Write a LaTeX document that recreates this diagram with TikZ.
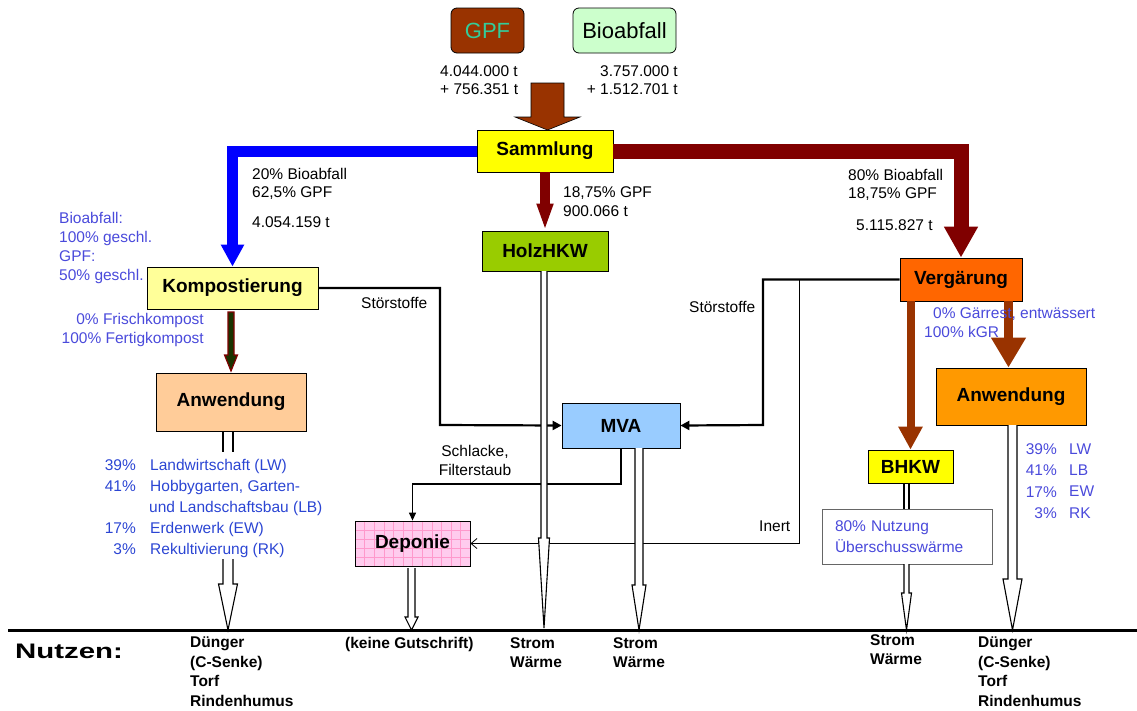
\documentclass[tikz,border=0pt]{standalone}
\usepackage{fontspec}
\setmainfont{Liberation Sans}
\usepackage{graphicx}
\usetikzlibrary{arrows.meta}
\definecolor{gpfbrown}{HTML}{993300}
\definecolor{gpfgreen}{HTML}{33CC99}
\definecolor{biogreen}{HTML}{CCFFCC}
\definecolor{sammyellow}{HTML}{FFFF00}
\definecolor{kompyellow}{HTML}{FFFF99}
\definecolor{holzgreen}{HTML}{99CC00}
\definecolor{vergorange}{HTML}{FF6600}
\definecolor{anwpeach}{HTML}{FFCC99}
\definecolor{anworange}{HTML}{FF9900}
\definecolor{mvablue}{HTML}{99CCFF}
\definecolor{deppink}{HTML}{FFCCEE}
\definecolor{gridpink}{HTML}{FF99CC}
\definecolor{blueline}{HTML}{0000FF}
\definecolor{darkred}{HTML}{800000}
\definecolor{txtblue}{HTML}{4A4ADB}
\definecolor{listblue}{HTML}{2B45D3}
\definecolor{kgreen}{HTML}{1A3300}
\newcommand\hollowarr[6]{\filldraw[draw=black,fill=white,line width=1.1pt] ({#1-#5},#2) -- ({#1-#5},#3) -- ({#1-#6},#3) -- (#1,#4) -- ({#1+#6},#3) -- ({#1+#5},#3) -- ({#1+#5},#2);}
\begin{document}
\begin{tikzpicture}[x=1pt,y=-1pt,
  box/.style={draw=black,line width=0.8pt,inner sep=0pt,font=\fontsize{19}{22}\selectfont\bfseries},
  lbl/.style={inner sep=0pt,font=\fontsize{15.5}{18}\selectfont,align=left,anchor=north west},
  bot/.style={inner sep=0pt,font=\fontsize{15.5}{19.5}\selectfont\bfseries,align=left,anchor=north west},
  thickline/.style={line width=2.2pt,draw=black}]
\useasboundingbox (0,0) rectangle (1137,710);

% top sources
\node[box,fill=gpfbrown,text=gpfgreen,rounded corners=6pt,minimum width=73pt,minimum height=45pt,font=\fontsize{22}{24}\selectfont] (gpf) at (487.5,30.5) {GPF};
\node[box,fill=biogreen,rounded corners=6pt,minimum width=103pt,minimum height=45pt,font=\fontsize{22}{24}\selectfont] (bio) at (624.5,30.5) {Bioabfall};
\node[lbl] (gpft) at (440,65.5) {4.044.000 t\\+ 756.351 t};
\node[lbl,anchor=north east,align=right] (biot) at (678,65.5) {3.757.000 t\\+ 1.512.701 t};

% big input arrow
\filldraw[draw=black,fill=gpfbrown,line width=0.6pt] (531,83) -- (531,117) -- (515,117) -- (547.5,130) -- (580,117) -- (564,117) -- (564,83) -- cycle;

% boxes
\node[box,fill=sammyellow,minimum width=136pt,minimum height=42pt] (samm) at (545,151) {Sammlung};
\node[box,fill=kompyellow,minimum width=171pt,minimum height=42pt] (komp) at (232.5,288) {Kompostierung};
\node[box,fill=holzgreen,minimum width=126pt,minimum height=40pt] (holz) at (545,251) {HolzHKW};
\node[box,fill=vergorange,minimum width=122pt,minimum height=43pt] (verg) at (961,279.5) {Vergärung};
\node[box,fill=anwpeach,minimum width=150pt,minimum height=58pt] (anwL) at (231,402) {Anwendung};
\node[box,fill=anworange,minimum width=150pt,minimum height=57pt] (anwR) at (1011,396.5) {Anwendung};
\node[box,fill=mvablue,minimum width=118pt,minimum height=45pt] (mva) at (621,425.5) {MVA};
\node[box,fill=deppink,minimum width=115pt,minimum height=45pt,
  path picture={\foreach \i in {1,...,12}{\draw[gridpink,line width=0.4pt] ([xshift=\i*9.6pt]path picture bounding box.south west) -- ([xshift=\i*9.6pt]path picture bounding box.north west);}
  \foreach \j in {1,...,5}{\draw[gridpink,line width=0.4pt] ([yshift=\j*9pt]path picture bounding box.south west) -- ([yshift=\j*9pt]path picture bounding box.south east);}}] (dep) at (412.5,543.5) {Deponie};
\node[box,fill=sammyellow,minimum width=85pt,minimum height=33pt] (bhkw) at (910.5,466.5) {BHKW};
\node[draw=black!60,fill=white,line width=0.8pt,text width=144pt,inner xsep=13pt,inner ysep=0pt,minimum height=55pt,align=left,text=txtblue,font=\fontsize{15.5}{21}\selectfont] (nutz) at (907,536.5) {80\% Nutzung\\Überschusswärme};

% main flows
\draw[line width=11pt,blueline,-{Triangle[width=22pt,length=22pt]}] (samm.west) -| (komp.north);
\draw[line width=15pt,darkred,-{Triangle[width=32pt,length=31pt]}] (samm.east) -| (verg.north);
\draw[line width=10pt,darkred,-{Triangle[width=15pt,length=27pt]}] (samm.south) -- (holz.north);
\filldraw[draw=darkred,fill=kgreen,line width=1.2pt] (228,312) -- (234,312) -- (234,355) -- (237.5,355) -- (231,371) -- (224.5,355) -- (228,355) -- cycle;
\draw[line width=8pt,gpfbrown,-{Triangle[width=23pt,length=23pt]}] (bhkw.north |- verg.south) -- (bhkw.north);
\draw[line width=9pt,gpfbrown,-{Triangle[width=33pt,length=30pt]}] ([xshift=-2.5pt]anwR.north |- verg.south) -- ([xshift=-2.5pt]anwR.north);

% Störstoffe, Schlacke, Inert
\coordinate (cl) at (440,425);
\coordinate (cr) at (763,425);
\coordinate (inert) at (799,280);
\coordinate (schl) at (621,484);
\draw[thickline,-{Triangle[length=9pt,width=9pt]}] (komp.east) -| (cl) -- (mva.west);
\draw[thickline,-{Triangle[length=9pt,width=9pt]}] (verg.west) -| (cr) -- (mva.east);
\draw[line width=0.8pt,-{Straight Barb[length=6pt,width=10pt]}] (inert) |- (dep.east);
\draw[line width=1.2pt,-{Triangle[length=8pt,width=7pt]}] (mva.south) -- (schl) -| (dep.north);

% hollow output arrows
\draw[line width=1.1pt] (223,431) -- (223,452) (233,431) -- (233,452);
\hollowarr{228}{559}{584}{630}{5}{9.5}
\hollowarr{411.5}{568}{617}{630}{3.5}{6.5}
\hollowarr{544}{271}{538}{628}{3}{5.5}
\hollowarr{639}{448}{585}{630}{4}{7}
\draw[line width=1.1pt] (904,483) -- (904,509) (909,483) -- (909,509);
\hollowarr{906.5}{564}{593}{630}{2.5}{5}
\hollowarr{1012.5}{425}{579}{630}{4.5}{9.5}

% baseline
\coordinate (bl0) at (8,630);
\coordinate (bl1) at (1137,630);
\draw[line width=3pt] (bl0) -- (bl1);

% labels
\node[lbl] (l20) at (252,168.5) {20\% Bioabfall\\62,5\% GPF};
\node[lbl] (l4054) at (252,216.5) {4.054.159 t};
\node[lbl,font=\fontsize{15.5}{19}\selectfont] (l1875) at (563,186.5) {18,75\% GPF\\900.066 t};
\node[lbl] (l80) at (848,169.5) {80\% Bioabfall\\18,75\% GPF};
\node[lbl] (l5115) at (856,219.5) {5.115.827 t};
\node[lbl,text=txtblue,font=\fontsize{15.5}{19}\selectfont] (lgeschl) at (59,212.5) {Bioabfall:\\100\% geschl.\\GPF:\\50\% geschl.};
\node[lbl,anchor=north east,align=right,text=txtblue,font=\fontsize{15.5}{19}\selectfont] (lfrisch) at (204,313.5) {0\% Frischkompost\\100\% Fertigkompost};
\node[lbl] (lstl) at (361,297.5) {Störstoffe};
\node[lbl] (lstr) at (689,301.5) {Störstoffe};
\node[lbl,text=txtblue] (lgaer) at (933,307.5) {0\% Gärrest, entwässert};
\node[lbl,text=txtblue] (lkgr) at (924,326.5) {100\% kGR};
\node[lbl,align=center,anchor=north,font=\fontsize{15.5}{19}\selectfont] (lschl) at (475,445.5) {Schlacke,\\Filterstaub};
\node[lbl] (linert) at (759,520.5) {Inert};

\node[lbl,anchor=north east,align=right,text=listblue,font=\fontsize{15.5}{21}\selectfont] (lpl) at (136,459.5) {39\%\\41\%\\[21pt]17\%\\3\%};
\node[lbl,text=listblue,font=\fontsize{15.5}{21}\selectfont] (ltl) at (150,459.5) {Landwirtschaft (LW)\\Hobbygarten, Garten-\\\hspace*{-1pt}und Landschaftsbau (LB)\\Erdenwerk (EW)\\Rekultivierung (RK)};
\node[lbl,anchor=north east,align=right,text=txtblue,font=\fontsize{15.5}{21.3}\selectfont] (lpr) at (1057,443.5) {39\%\\41\%\\17\%\\3\%};
\node[lbl,text=txtblue,font=\fontsize{15.5}{21.3}\selectfont] (ltr) at (1069,443.5) {LW\\LB\\EW\\RK};

% bottom
\node[anchor=west,inner sep=0pt,font=\fontsize{21}{21}\selectfont\bfseries] (nutzen) at (15,651) {\scalebox{1.4}[1]{Nutzen:}};
\node[bot] (b1) at (190,637) {Dünger\\(C-Senke)\\Torf\\Rindenhumus};
\node[bot] (b2) at (345,637) {(keine Gutschrift)};
\node[bot] (b3) at (510,637) {Strom\\Wärme};
\node[bot] (b4) at (613,637) {Strom\\Wärme};
\node[bot] (b5) at (870,634) {Strom\\Wärme};
\node[bot] (b6) at (978,637) {Dünger\\(C-Senke)\\Torf\\Rindenhumus};
\end{tikzpicture}
\end{document}
